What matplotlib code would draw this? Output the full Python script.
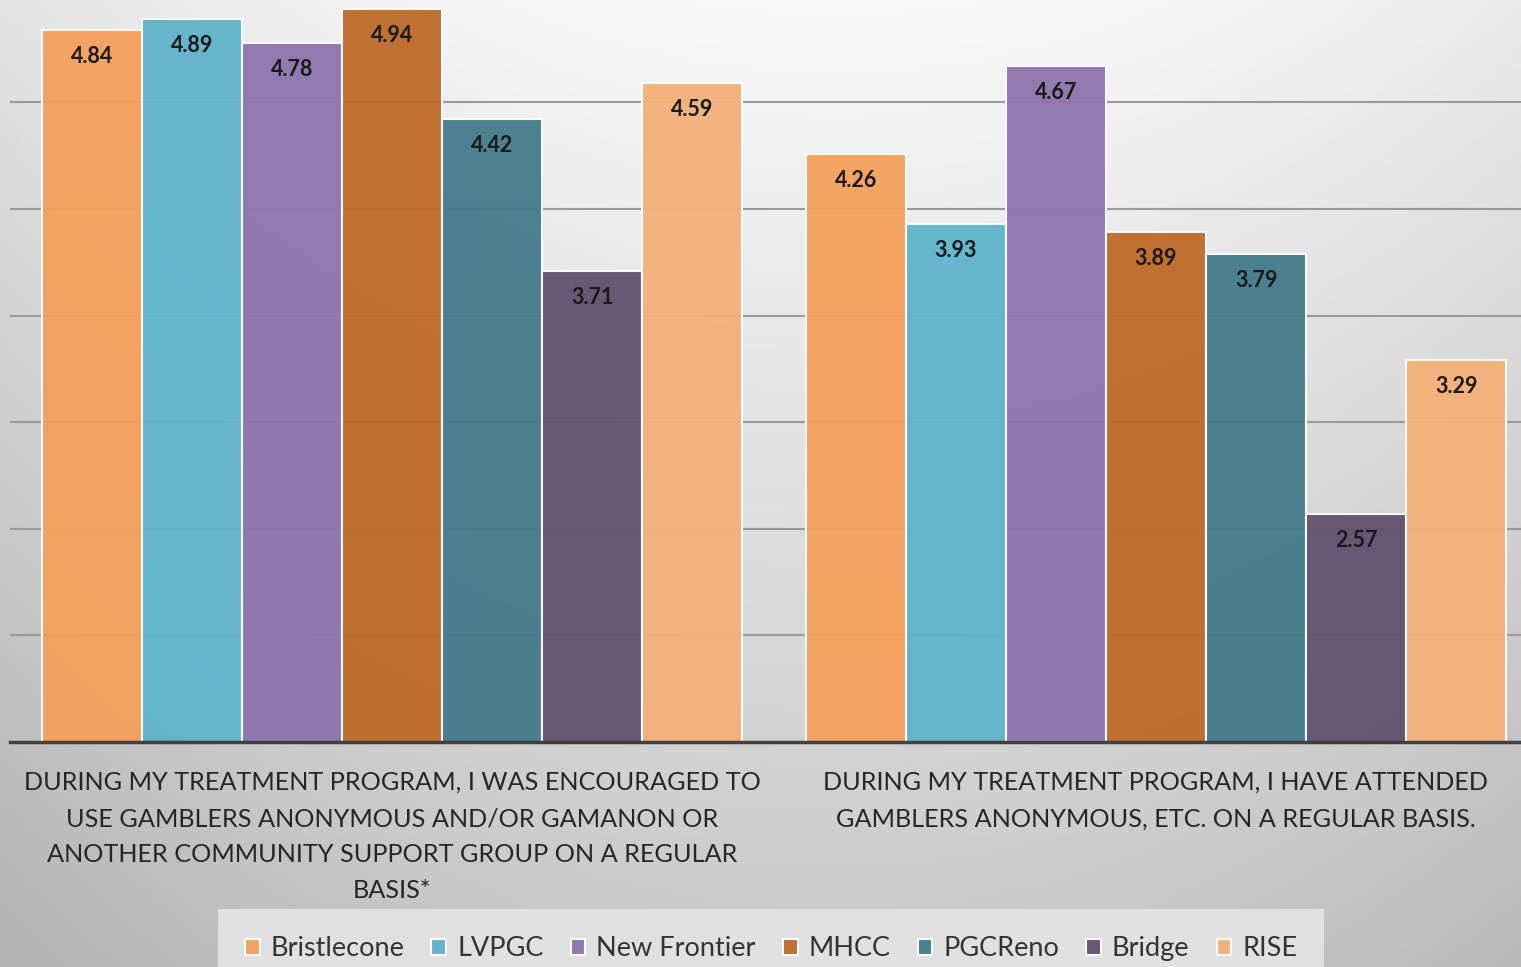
import matplotlib.pyplot as plt
import matplotlib.transforms as mtransforms
import numpy as np

# survey items (x categories)
questions = [
    "DURING MY TREATMENT PROGRAM, I WAS ENCOURAGED TO\nUSE GAMBLERS ANONYMOUS AND/OR GAMANON OR\nANOTHER COMMUNITY SUPPORT GROUP ON A REGULAR\nBASIS*",
    "DURING MY TREATMENT PROGRAM, I HAVE ATTENDED\nGAMBLERS ANONYMOUS, ETC. ON A REGULAR BASIS.",
]
programs = ["Bristlecone", "LVPGC", "New Frontier", "MHCC", "PGCReno", "Bridge", "RISE"]
colors = ["#F4A05A", "#5FB3CB", "#8D74AD", "#BE6A27", "#437B8B", "#62506F", "#F3B078"]

bristlecone = [4.84, 4.26]
lvpgc = [4.89, 3.93]
new_frontier = [4.78, 4.67]
mhcc = [4.94, 3.89]
pgcreno = [4.42, 3.79]
bridge = [3.71, 2.57]
rise = [4.59, 3.29]
series = [bristlecone, lvpgc, new_frontier, mhcc, pgcreno, bridge, rise]

plt.rcParams['font.family'] = ['Lato', 'DejaVu Sans']

fig = plt.figure(figsize=(15.21, 9.67), dpi=100)

# background gradient
bg = fig.add_axes([0, 0, 1, 1], zorder=-10)
yy, xx = np.mgrid[0:1:200j, 0:1:300j]
shade = 0.975 - 0.19 * yy - 0.07 * (np.abs(xx - 0.55) * 2) ** 2
bg.imshow(np.dstack([shade] * 3), aspect='auto', extent=[0, 1, 0, 1], origin='upper')
bg.axis('off')

ax = fig.add_axes([10 / 1521, 225 / 967, 1528 / 1521, 742 / 967])
ax.patch.set_alpha(0)

x = np.arange(len(questions))
width = 0.131
for i, (name, vals) in enumerate(zip(programs, series)):
    pos = x + (i - 3) * width
    ax.bar(pos, vals, width, bottom=0, color=colors[i], edgecolor='white',
           linewidth=1.5, alpha=0.95, label=name, zorder=2)
    for p, v in zip(pos, vals):
        ax.text(p, v - 0.075, "%.2f" % v, ha='center', va='top', fontsize=15.5,
                fontweight='bold', color='#1a1a1a', zorder=4)

ax.set_xlim(-0.5, 1.5)
ax.set_ylim(1.5, 4.98)
ax.set_yticks([2.0, 2.5, 3.0, 3.5, 4.0, 4.5])
ax.yaxis.grid(True, color='#9a9a9a', linewidth=1.5, zorder=1)
ax.set_axisbelow(True)
ax.tick_params(left=False, labelleft=False, bottom=False, labelbottom=False)
for s in ['top', 'right', 'left']:
    ax.spines[s].set_visible(False)
ax.spines['bottom'].set_color('#404040')
ax.spines['bottom'].set_linewidth(2.5)
ax.spines['bottom'].set_zorder(5)

trans = mtransforms.blended_transform_factory(ax.transData, fig.transFigure)
for xi, q in zip(x, questions):
    ax.text(xi, 1 - 771 / 967, q, transform=trans, ha='center', va='top',
            fontsize=18.2, color='#262626', linespacing=1.69)

leg = ax.legend(loc='lower center', bbox_to_anchor=(771 / 1521, -35 / 967),
                bbox_transform=fig.transFigure, ncol=7, frameon=True,
                fontsize=19.5, handlelength=0.55, handleheight=0.55, handletextpad=0.4,
                columnspacing=1.0, borderpad=1.0, fancybox=False)
leg.get_frame().set_facecolor('#e0e0e0')
leg.get_frame().set_edgecolor('none')
leg.get_frame().set_alpha(1)
for t in leg.get_texts():
    t.set_color('#333333')

fig.savefig("out.png", dpi=100)
